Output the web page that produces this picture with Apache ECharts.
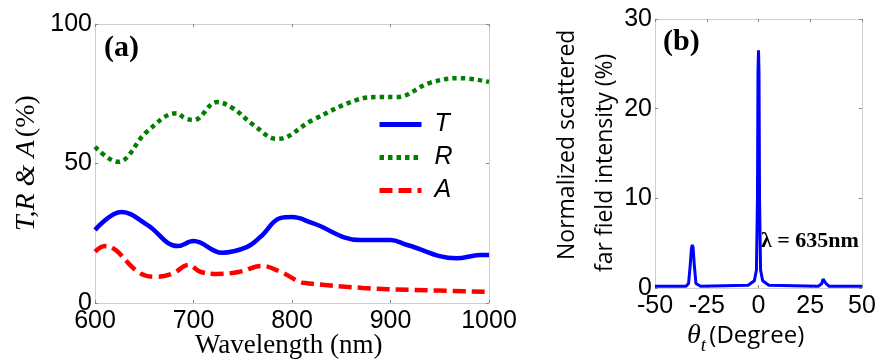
<!DOCTYPE html>
<html><head><meta charset="utf-8">
<script src="https://cdn.jsdelivr.net/npm/echarts@6/dist/echarts.min.js"></script>
<style>html,body{margin:0;padding:0;background:#fff}#c{width:879px;height:364px}</style>
</head><body><div id="c"></div>
<script>
// Panel (a): wavelength (nm) vs T, R, A (%)
const tWl = [600,627,653,684,700,729,754,768,788,800,821,869,900,917,967,991,1000];
const tVal = [26.2,32.6,28,20.4,22.2,18,20,23.7,30.4,30.8,28.6,22.6,22.6,20.8,16,17.2,17.2];
const rWl = [600,623,653,683,691,700,724,740,761,785,821,866,889,906,940,971,1000];
const rVal = [56,50.6,61.5,68,66.3,65.6,72,69.8,63.8,58.8,65.6,72.8,73.8,73.8,78.9,80.6,79.2];
const aWl = [600,610,646,663,679,695,707,724,747,769,788,808,815,872,923,1000];
const aVal = [18.4,20.4,10.6,9.4,10.6,13.6,11.2,10.4,11.2,13.3,11.2,7.6,7.1,5.4,4.7,4.0];
// Panel (b): angle (degree) vs normalized scattered far-field intensity (%)
const bAng = [-50,-35,-33.8,-33,-32.4,-32,-31.6,-31,-30.2,-28,-5,-2,-1,-0.5,-0.25,0,0.25,0.5,1,2,5,29,30.6,31.2,31.6,32,32.6,34,50];
const bVal = [0.2,0.2,0.5,2.5,4.4,4.8,4.5,2.5,0.5,0.2,0.3,0.8,2,10,24,26.5,24,10,2,0.8,0.3,0.2,0.5,1.0,1.2,1.0,0.5,0.2,0.2];

const zip = (xs, ys) => xs.map((x, i) => [x, ys[i]]);
const gray = '#cfcfcf';
const tickCol = '#888';
const labelFont = {fontFamily: 'Liberation Sans', fontSize: 25, color: '#000'};

function axisPair(gi, opts, isX) {
  const base = Object.assign({
    type: 'value', gridIndex: gi,
    axisLine: {show: true, onZero: false, lineStyle: {color: gray, width: 1}},
    axisTick: {show: true, inside: true, length: 3, lineStyle: {color: tickCol}},
    splitLine: {show: false}
  }, opts);
  const main = Object.assign({}, base, {
    position: isX ? 'bottom' : 'left',
    axisLabel: Object.assign({margin: isX ? 6 : 3, formatter: v => String(v)}, labelFont)
  });
  const mirror = Object.assign({}, base, {
    position: isX ? 'top' : 'right',
    axisLabel: {show: false}
  });
  return [main, mirror];
}

const xA = axisPair(0, {min: 600, max: 1000, interval: 100}, true);
const yA = axisPair(0, {min: 0, max: 100, interval: 50}, false);
const xB = axisPair(1, {min: -50, max: 50, interval: 25}, true);
const yB = axisPair(1, {min: 0, max: 30, interval: 10}, false);

const chart = echarts.init(document.getElementById('c'));
chart.setOption({
  animation: false,
  backgroundColor: '#fff',
  grid: [
    {left: 95, top: 24, width: 394, height: 279},
    {left: 655, top: 19, width: 207, height: 269}
  ],
  xAxis: [xA[0], xA[1], xB[0], xB[1]],
  yAxis: [yA[0], yA[1], yB[0], yB[1]],
  legend: {
    orient: 'vertical', left: 377, top: 112, padding: 0, itemWidth: 42, itemHeight: 14, itemGap: 8,
    data: ['T', 'R', 'A'],
    itemStyle: {opacity: 0},
    lineStyle: {width: 5},
    textStyle: {fontFamily: 'Liberation Sans', fontStyle: 'italic', fontSize: 25, color: '#000', padding: [0, 0, 0, 8]}
  },
  series: [
    {name: 'T', type: 'line', xAxisIndex: 0, yAxisIndex: 0, data: zip(tWl, tVal), smooth: 0.4, symbol: 'none',
     lineStyle: {color: '#0000ff', width: 4.5}, itemStyle: {color: '#0000ff'}},
    {name: 'R', type: 'line', xAxisIndex: 0, yAxisIndex: 0, data: zip(rWl, rVal), smooth: 0.4, symbol: 'none',
     lineStyle: {color: '#007f00', width: 4.5, type: [4.5, 4]}, itemStyle: {color: '#007f00'}},
    {name: 'A', type: 'line', xAxisIndex: 0, yAxisIndex: 0, data: zip(aWl, aVal), smooth: 0.4, symbol: 'none',
     lineStyle: {color: '#ff0000', width: 4.5, type: [13, 6]}, itemStyle: {color: '#ff0000'}},
    {name: 'far', type: 'line', xAxisIndex: 2, yAxisIndex: 2, data: zip(bAng, bVal), symbol: 'none',
     lineStyle: {color: '#0000ff', width: 3}, itemStyle: {color: '#0000ff'}}
  ],
  graphic: [
    {type: 'text', left: 104, top: 33, style: {text: '(a)', font: 'bold 30px "Liberation Serif"', fill: '#000'}},
    {type: 'text', left: 663, top: 27, style: {text: '(b)', font: 'bold 30px "Liberation Serif"', fill: '#000'}},
    {type: 'text', left: 761, top: 230, style: {text: 'λ = 635nm', font: 'bold 22px "Liberation Serif"', fill: '#000'}},
    {type: 'text', left: 195, top: 332, style: {text: 'Wavelength (nm)', font: '27px "Liberation Serif"', fill: '#000'}},
    {type: 'text', x: 13, y: 231, rotation: Math.PI / 2,
     style: {text: '{i|T,R & A} {n|(%)}', rich: {
       i: {fontFamily: 'Liberation Serif', fontStyle: 'italic', fontSize: 28, fill: '#000'},
       n: {fontFamily: 'Liberation Serif', fontSize: 28, fill: '#000'}}}},
    {type: 'text', x: 556, y: 260, rotation: Math.PI / 2,
     style: {text: 'Normalized scattered', font: '23px "Open Sans"', fill: '#000'}},
    {type: 'text', x: 594, y: 272, rotation: Math.PI / 2,
     style: {text: 'far field intensity (%)', font: '23px "Open Sans"', fill: '#000'}},
    {type: 'text', left: 687, top: 322,
     style: {text: '{th|θ}{sub|t} {n|(Degree)}', rich: {
       th: {fontFamily: 'Liberation Serif', fontStyle: 'italic', fontSize: 28, fill: '#000'},
       sub: {fontFamily: 'Liberation Serif', fontStyle: 'italic', fontSize: 19, fill: '#000', verticalAlign: 'bottom', padding: [20, 0, 0, 0]},
       n: {fontFamily: 'Open Sans', fontSize: 24, fill: '#000'}}}}
  ]
});
</script></body></html>
